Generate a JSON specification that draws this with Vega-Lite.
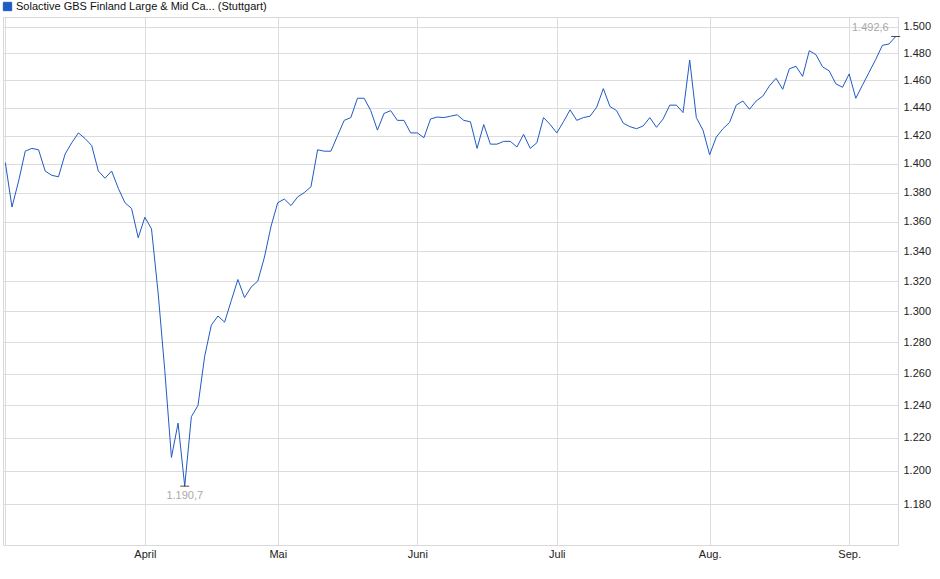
{
  "$schema": "https://vega.github.io/schema/vega-lite/v6.json",
  "width": 895,
  "height": 528,
  "autosize": "none",
  "padding": {"left": 3, "top": 17, "right": 42, "bottom": 34},
  "data": {
    "values": [
      {"date": "2025-03-03", "value": 1401},
      {"date": "2025-03-04", "value": 1370},
      {"date": "2025-03-05", "value": 1388},
      {"date": "2025-03-06", "value": 1409},
      {"date": "2025-03-07", "value": 1411},
      {"date": "2025-03-10", "value": 1410},
      {"date": "2025-03-11", "value": 1395},
      {"date": "2025-03-12", "value": 1392},
      {"date": "2025-03-13", "value": 1391},
      {"date": "2025-03-14", "value": 1407},
      {"date": "2025-03-17", "value": 1415},
      {"date": "2025-03-18", "value": 1422},
      {"date": "2025-03-19", "value": 1418},
      {"date": "2025-03-20", "value": 1413},
      {"date": "2025-03-21", "value": 1395},
      {"date": "2025-03-24", "value": 1390},
      {"date": "2025-03-25", "value": 1395},
      {"date": "2025-03-26", "value": 1383},
      {"date": "2025-03-27", "value": 1373},
      {"date": "2025-03-28", "value": 1369},
      {"date": "2025-03-31", "value": 1349},
      {"date": "2025-04-01", "value": 1363},
      {"date": "2025-04-02", "value": 1355},
      {"date": "2025-04-03", "value": 1312},
      {"date": "2025-04-04", "value": 1262},
      {"date": "2025-04-07", "value": 1208},
      {"date": "2025-04-08", "value": 1229},
      {"date": "2025-04-09", "value": 1190.7},
      {"date": "2025-04-10", "value": 1233},
      {"date": "2025-04-11", "value": 1240},
      {"date": "2025-04-14", "value": 1271},
      {"date": "2025-04-15", "value": 1291},
      {"date": "2025-04-16", "value": 1297},
      {"date": "2025-04-17", "value": 1293},
      {"date": "2025-04-22", "value": 1307},
      {"date": "2025-04-23", "value": 1321},
      {"date": "2025-04-24", "value": 1309},
      {"date": "2025-04-25", "value": 1316},
      {"date": "2025-04-28", "value": 1320},
      {"date": "2025-04-29", "value": 1336},
      {"date": "2025-04-30", "value": 1357},
      {"date": "2025-05-02", "value": 1373},
      {"date": "2025-05-05", "value": 1375.5},
      {"date": "2025-05-06", "value": 1371},
      {"date": "2025-05-07", "value": 1377},
      {"date": "2025-05-08", "value": 1380},
      {"date": "2025-05-09", "value": 1384},
      {"date": "2025-05-12", "value": 1410},
      {"date": "2025-05-13", "value": 1409},
      {"date": "2025-05-14", "value": 1409},
      {"date": "2025-05-15", "value": 1420},
      {"date": "2025-05-16", "value": 1431},
      {"date": "2025-05-19", "value": 1433},
      {"date": "2025-05-20", "value": 1447},
      {"date": "2025-05-21", "value": 1447},
      {"date": "2025-05-22", "value": 1438},
      {"date": "2025-05-23", "value": 1424},
      {"date": "2025-05-26", "value": 1436},
      {"date": "2025-05-27", "value": 1438},
      {"date": "2025-05-28", "value": 1431},
      {"date": "2025-05-29", "value": 1431},
      {"date": "2025-05-30", "value": 1422},
      {"date": "2025-06-02", "value": 1422},
      {"date": "2025-06-03", "value": 1418.6},
      {"date": "2025-06-04", "value": 1432},
      {"date": "2025-06-05", "value": 1433.4},
      {"date": "2025-06-06", "value": 1433},
      {"date": "2025-06-09", "value": 1434},
      {"date": "2025-06-10", "value": 1435},
      {"date": "2025-06-11", "value": 1431},
      {"date": "2025-06-12", "value": 1430},
      {"date": "2025-06-13", "value": 1411},
      {"date": "2025-06-16", "value": 1428},
      {"date": "2025-06-17", "value": 1414},
      {"date": "2025-06-18", "value": 1414},
      {"date": "2025-06-19", "value": 1416},
      {"date": "2025-06-20", "value": 1416},
      {"date": "2025-06-23", "value": 1412},
      {"date": "2025-06-24", "value": 1421},
      {"date": "2025-06-25", "value": 1411},
      {"date": "2025-06-26", "value": 1415},
      {"date": "2025-06-27", "value": 1433},
      {"date": "2025-06-30", "value": 1428},
      {"date": "2025-07-01", "value": 1422},
      {"date": "2025-07-02", "value": 1430},
      {"date": "2025-07-03", "value": 1438.6},
      {"date": "2025-07-04", "value": 1431},
      {"date": "2025-07-07", "value": 1433},
      {"date": "2025-07-08", "value": 1434},
      {"date": "2025-07-09", "value": 1440.5},
      {"date": "2025-07-10", "value": 1454},
      {"date": "2025-07-11", "value": 1441},
      {"date": "2025-07-14", "value": 1438},
      {"date": "2025-07-15", "value": 1429},
      {"date": "2025-07-16", "value": 1426.5},
      {"date": "2025-07-17", "value": 1425},
      {"date": "2025-07-18", "value": 1427},
      {"date": "2025-07-21", "value": 1433},
      {"date": "2025-07-22", "value": 1426},
      {"date": "2025-07-23", "value": 1432},
      {"date": "2025-07-24", "value": 1442},
      {"date": "2025-07-25", "value": 1442},
      {"date": "2025-07-28", "value": 1436.6},
      {"date": "2025-07-29", "value": 1475},
      {"date": "2025-07-30", "value": 1433},
      {"date": "2025-07-31", "value": 1424},
      {"date": "2025-08-01", "value": 1406.5},
      {"date": "2025-08-04", "value": 1419},
      {"date": "2025-08-05", "value": 1425},
      {"date": "2025-08-06", "value": 1429.5},
      {"date": "2025-08-07", "value": 1442},
      {"date": "2025-08-08", "value": 1445},
      {"date": "2025-08-11", "value": 1439},
      {"date": "2025-08-12", "value": 1445},
      {"date": "2025-08-13", "value": 1448.5},
      {"date": "2025-08-14", "value": 1456},
      {"date": "2025-08-15", "value": 1461.6},
      {"date": "2025-08-18", "value": 1453.5},
      {"date": "2025-08-19", "value": 1468.6},
      {"date": "2025-08-20", "value": 1470.4},
      {"date": "2025-08-21", "value": 1463},
      {"date": "2025-08-22", "value": 1482},
      {"date": "2025-08-25", "value": 1479},
      {"date": "2025-08-26", "value": 1470},
      {"date": "2025-08-27", "value": 1467},
      {"date": "2025-08-28", "value": 1457.5},
      {"date": "2025-08-29", "value": 1455},
      {"date": "2025-09-01", "value": 1464.8},
      {"date": "2025-09-02", "value": 1447},
      {"date": "2025-09-03", "value": 1456.5},
      {"date": "2025-09-04", "value": 1466},
      {"date": "2025-09-05", "value": 1475.5},
      {"date": "2025-09-08", "value": 1486},
      {"date": "2025-09-09", "value": 1487},
      {"date": "2025-09-10", "value": 1492.6}
    ]
  },
  "transform": [
    {"joinaggregate": [
      {"op": "min", "field": "value", "as": "lo"},
      {"op": "max", "field": "value", "as": "hi"}
    ]}
  ],
  "encoding": {
    "x": {
      "field": "date",
      "type": "ordinal",
      "scale": {"type": "point", "padding": 0.35},
      "axis": {
        "title": null,
        "values": ["2025-03-03", "2025-04-01", "2025-05-02", "2025-06-02", "2025-07-01", "2025-08-01", "2025-09-01"],
        "labelExpr": "datum.value == '2025-04-01' ? 'April' : datum.value == '2025-05-02' ? 'Mai' : datum.value == '2025-06-02' ? 'Juni' : datum.value == '2025-07-01' ? 'Juli' : datum.value == '2025-08-01' ? 'Aug.' : datum.value == '2025-09-01' ? 'Sep.' : ''",
        "labelAngle": 0,
        "labelAlign": "center",
        "labelPadding": 3,
        "ticks": false,
        "domain": false,
        "grid": true
      }
    },
    "y": {
      "field": "value",
      "type": "quantitative",
      "scale": {"type": "log", "domain": [1156, 1507.3], "nice": false, "zero": false},
      "axis": {
        "title": null,
        "orient": "right",
        "values": [1180, 1200, 1220, 1240, 1260, 1280, 1300, 1320, 1340, 1360, 1380, 1400, 1420, 1440, 1460, 1480, 1500],
        "labelExpr": "replace(format(datum.value, ',.0f'), ',', '.')",
        "ticks": false,
        "domain": false,
        "labelPadding": 5,
        "grid": true
      }
    }
  },
  "layer": [
    {
      "mark": {"type": "line", "strokeWidth": 1, "interpolate": "linear"},
      "encoding": {
        "color": {
          "datum": "Solactive GBS Finland Large & Mid Ca... (Stuttgart)",
          "scale": {"range": ["#1f5bc4"]},
          "legend": {
            "title": null,
            "orient": "none",
            "legendX": -1,
            "legendY": -16,
            "symbolType": "square",
            "symbolSize": 70,
            "symbolFillColor": "#1f5bc4",
            "symbolStrokeColor": "#0d2b66",
            "symbolStrokeWidth": 1,
            "labelFontSize": 11,
            "labelFont": "Liberation Sans",
            "labelColor": "#111",
            "labelLimit": 500,
            "labelOffset": 3,
            "padding": 0
          }
        }
      }
    },
    {
      "transform": [{"filter": "datum.value == datum.lo || datum.value == datum.hi"}],
      "mark": {"type": "tick", "orient": "horizontal", "size": 9, "thickness": 1, "color": "#000"}
    },
    {
      "transform": [{"filter": "datum.value == datum.lo"}],
      "mark": {"type": "text", "align": "center", "baseline": "middle", "dy": 10, "fontSize": 11, "font": "Liberation Sans", "color": "#a9a9a9"},
      "encoding": {"text": {"field": "value", "type": "quantitative", "format": ",.1f"}}
    },
    {
      "transform": [{"filter": "datum.value == datum.hi"}],
      "mark": {"type": "text", "align": "right", "baseline": "middle", "dx": -7, "dy": -9, "fontSize": 11, "font": "Liberation Sans", "color": "#a9a9a9"},
      "encoding": {"text": {"field": "value", "type": "quantitative", "format": ",.1f"}}
    }
  ],
  "config": {
    "locale": {
      "number": {"decimal": ",", "thousands": ".", "grouping": [3], "currency": ["", " €"]}
    },
    "view": {"stroke": "#d8d8d8", "strokeWidth": 1},
    "axis": {
      "gridColor": "#dcdcdc",
      "gridWidth": 1,
      "labelFont": "Liberation Sans",
      "labelFontSize": 11,
      "labelColor": "#222"
    }
  }
}
